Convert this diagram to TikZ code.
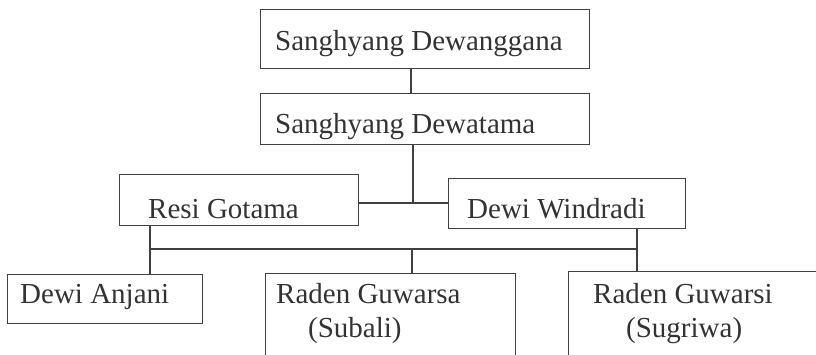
\documentclass[tikz,border=0pt]{standalone}
\usepackage{fontspec}
\setmainfont{Liberation Serif}
\usetikzlibrary{calc}
\newcommand{\namafont}{\fontsize{29}{34}\selectfont}
\def\kotak(#1)(#2,#3)(#4,#5){\node[kotak, minimum width={#4-#2}, minimum height={#5-#3}] (#1) at (#2,#3) {};}

\begin{document}
\begin{tikzpicture}[x=1pt, y=-1pt,
	kotak/.style={draw=black!75, line width=1.3pt, inner sep=0pt, anchor=north west},
	garis/.style={draw=black!75, line width=1.3pt},
	nama/.style={anchor=base west, inner sep=0pt, text=black!80, font=\namafont}]
			%%%%% START %%%%%
			\useasboundingbox (0,0) rectangle (816,354);
			\clip (0,0) rectangle (816,354);
			
			\kotak(dewanggana)(260,9)(589,68)
			\kotak(dewatama)(260,93)(589,144)
			\kotak(gotama)(119,174)(358,225)
			\kotak(windradi)(448,178)(685,228)
			\kotak(anjani)(7,274)(202,323)
			\kotak(guwarsa)(265,273)(515,400)
			\kotak(guwarsi)(568,271)(840,400)
			
			\node[nama] (tdewanggana) at ($(dewanggana.north west)+(15,41)$) {Sanghyang Dewanggana};
			\node[nama] (tdewatama) at ($(dewatama.north west)+(15,40)$) {Sanghyang Dewatama};
			\node[nama] (tgotama) at ($(gotama.north west)+(29,44)$) {Resi Gotama};
			\node[nama] (twindradi) at ($(windradi.north west)+(19,40)$) {Dewi Windradi};
			\node[nama] (tanjani) at ($(anjani.north west)+(13,29)$) {Dewi Anjani};
			\node[nama] (tguwarsa) at ($(guwarsa.north west)+(11,30)$) {Raden Guwarsa};
			\node[nama] (tsubali) at ($(guwarsa.north west)+(43,64)$) {(Subali)};
			\node[nama] (tguwarsi) at ($(guwarsi.north west)+(25,32)$) {Raden Guwarsi};
			\node[nama] (tsugriwa) at ($(guwarsi.north west)+(58,66)$) {(Sugriwa)};
			
			% garis keturunan
			\draw[garis] ([xshift=151pt]dewanggana.south west) -- ([xshift=151pt]dewanggana.south west |- dewatama.north);
			
			\coordinate (nikah) at (413,203);
			\draw[garis] (gotama.east |- nikah) -- (windradi.west |- nikah);
			\draw[garis] (dewatama.south -| nikah) -- (nikah);
			
			\coordinate (anakkiri) at (150,249);
			\coordinate (anakkanan) at (637,249);
			\draw[garis] (anakkiri) -- (anakkanan);
			\draw[garis] (gotama.south -| anakkiri) -- (anjani.north -| anakkiri);
			\draw[garis] (windradi.south -| anakkanan) -- (guwarsi.north -| anakkanan);
			\draw[garis] (anakkiri -| nikah) ++(-1,0) -- ([xshift=147pt]guwarsa.north west);
			
			%%%%% END %%%%%
		\end{tikzpicture}
\end{document}
